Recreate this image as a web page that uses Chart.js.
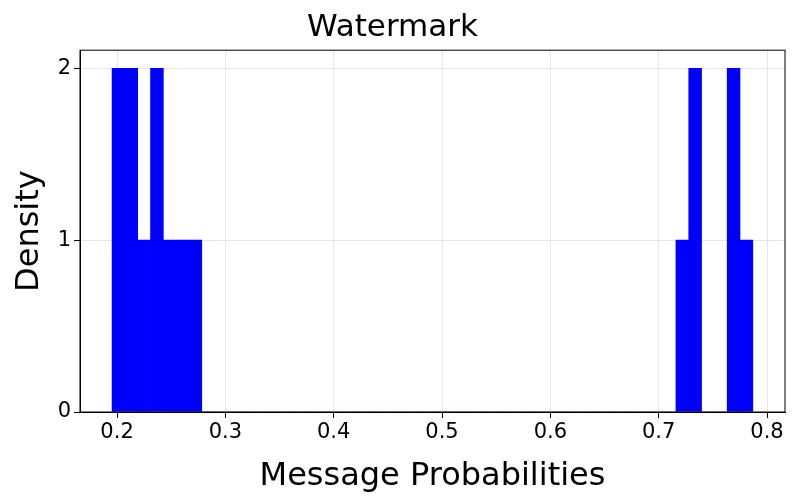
<!DOCTYPE html>
<html>
<head>
<meta charset="utf-8">
<script src="https://cdn.jsdelivr.net/npm/chart.js@4/dist/chart.umd.min.js"></script>
<style>
  body { margin: 0; background: #fff; }
  #wrap { width: 800px; height: 500px; }
</style>
</head>
<body>
<div id="wrap"><canvas id="chart"></canvas></div>
<script>
// Histogram: 50 equal bins
const binStart = 0.1954;
const binWidth = 0.01183;
const counts = [2, 2, 1, 2, 1, 1, 1, 0, 0, 0,
                0, 0, 0, 0, 0, 0, 0, 0, 0, 0,
                0, 0, 0, 0, 0, 0, 0, 0, 0, 0,
                0, 0, 0, 0, 0, 0, 0, 0, 0, 0,
                0, 0, 0, 0, 1, 2, 0, 0, 2, 1];
const xTicks = [0.2, 0.3, 0.4, 0.5, 0.6, 0.7, 0.8];
const yTicks = [0, 1, 2];

const points = counts.map((c, i) => ({ x: binStart + binWidth * (i + 0.5), y: c }));

Chart.defaults.font.family = 'DejaVu Sans';
Chart.defaults.color = '#000';

new Chart(document.getElementById('chart').getContext('2d'), {
    type: 'bar',
    data: {
        datasets: [{
            data: points,
            backgroundColor: '#0000ff',
            borderWidth: 0,
            barPercentage: 1,
            categoryPercentage: 1
        }]
    },
    options: {
        responsive: true,
        maintainAspectRatio: false,
        animation: false,
        layout: { padding: { left: 0, right: 15, top: 0, bottom: 0 } },
        plugins: {
            legend: { display: false },
            tooltip: { enabled: false },
            title: {
                display: true,
                text: 'Watermark',
                font: { size: 31, weight: 'normal' },
                padding: { top: 9, bottom: 4 }
            }
        },
        scales: {
            x: {
                type: 'linear',
                offset: false,
                min: 0.1658,
                max: 0.8166,
                afterBuildTicks: s => { s.ticks = xTicks.map(v => ({ value: v })); },
                afterFit: s => { s.height = 88; },
                ticks: { font: { size: 21 }, callback: v => v.toFixed(1), autoSkip: false, maxRotation: 0, padding: 2 },
                grid: { color: '#e6e6e6', tickColor: '#000', tickLength: 6, offset: false },
                border: { color: '#000', width: 1 },
                title: { display: true, text: 'Message Probabilities', font: { size: 32 }, padding: { top: 2 } }
            },
            y: {
                min: 0,
                max: 2.105,
                afterBuildTicks: s => { s.ticks = yTicks.map(v => ({ value: v })); },
                afterFit: s => { s.width = 80; },
                ticks: { font: { size: 21 } },
                grid: { color: '#e6e6e6', tickColor: '#000', tickLength: 6 },
                border: { color: '#000', width: 1 },
                title: { display: true, text: 'Density', font: { size: 32 }, padding: { top: 10 } }
            }
        }
    },
    plugins: [{
        id: 'frame',
        afterDraw(chart) {
            const { ctx, chartArea: a } = chart;
            ctx.save();
            ctx.strokeStyle = '#000';
            ctx.lineWidth = 1;
            ctx.strokeRect(a.left, a.top, a.right - a.left, a.bottom - a.top);
            ctx.restore();
        }
    }]
});
</script>
</body>
</html>
